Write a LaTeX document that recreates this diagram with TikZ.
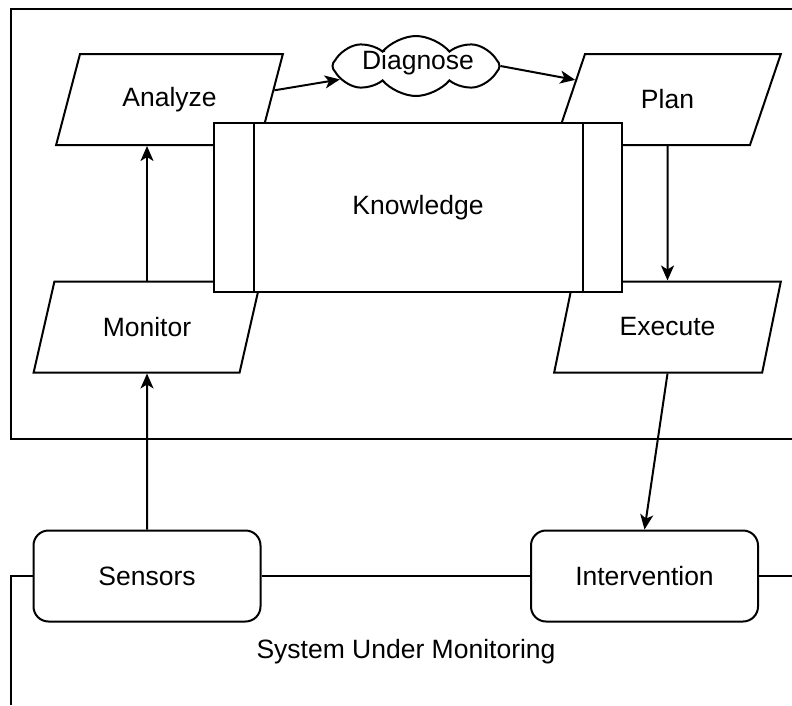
\documentclass[tikz,border=0pt]{standalone}
\usepackage{fontspec}
\setmainfont{Liberation Sans}
\usepackage{tikz}
\usetikzlibrary{shapes.geometric, shapes.symbols, arrows.meta, calc, positioning}

\tikzset{
  io/.style={trapezium, trapezium left angle=63, trapezium right angle=117,
    trapezium stretches=true, draw, fill=white, inner sep=0pt,
    minimum width=227pt, minimum height=91pt},
  unit/.style={draw, fill=white, rounded corners=15pt,
    minimum width=227pt, minimum height=91pt},
}

\begin{document}
\begin{tikzpicture}[>={Stealth[length=15pt,width=13pt,inset=4pt]}, x=1pt, y=-1pt,
    line width=2pt, font=\fontsize{26.5}{32}\selectfont]
\useasboundingbox (0,0) rectangle (792,705);
\draw (792,9) -- (11,9) -- (11,439) -- (792,439);

\node[io] (ana) at (169.5,99.5) {Analyze};
\node[io] (mon) at (147,327) {Monitor};
\node[io] (plan) at (667.5,99.5) {Plan};
\node[io] (exe) at (667.5,327) {Execute};

\node[draw, fill=white, minimum width=408pt, minimum height=169pt] (know) at (418,207.5) {Knowledge};
\draw ([xshift=41pt]know.north west) -- ([xshift=41pt]know.south west);
\draw ([xshift=-40pt]know.north east) -- ([xshift=-40pt]know.south east);

\node[cloud, cloud puffs=8, cloud puff arc=100, aspect=2.9, draw, fill=white, inner sep=0pt,
  minimum width=167pt, minimum height=60pt] (diag) at (416,66) {};
\node (diagtext) at (418,63) {Diagnose};

\node[unit] (sen) at (147,576) {Sensors};
\node[unit] (int) at (644.5,576) {Intervention};
\draw (11,705) |- (sen.west);
\draw (sen.east) -- (int.west);
\draw (int.east) -- (792,576);
\node (sys) at (406,652) {System Under Monitoring};

\draw[->] (mon.north) -- (mon.north |- ana.south);
\draw[->] (ana.5) -- (diag.190);
\draw[->] (diag.east) -- (plan.168);
\draw[->] (plan.south) -- (exe.north);
\draw[->] (sen.north) -- (mon.south);
\draw[->] (exe.south) -- (int.north);
\end{tikzpicture}
\end{document}
